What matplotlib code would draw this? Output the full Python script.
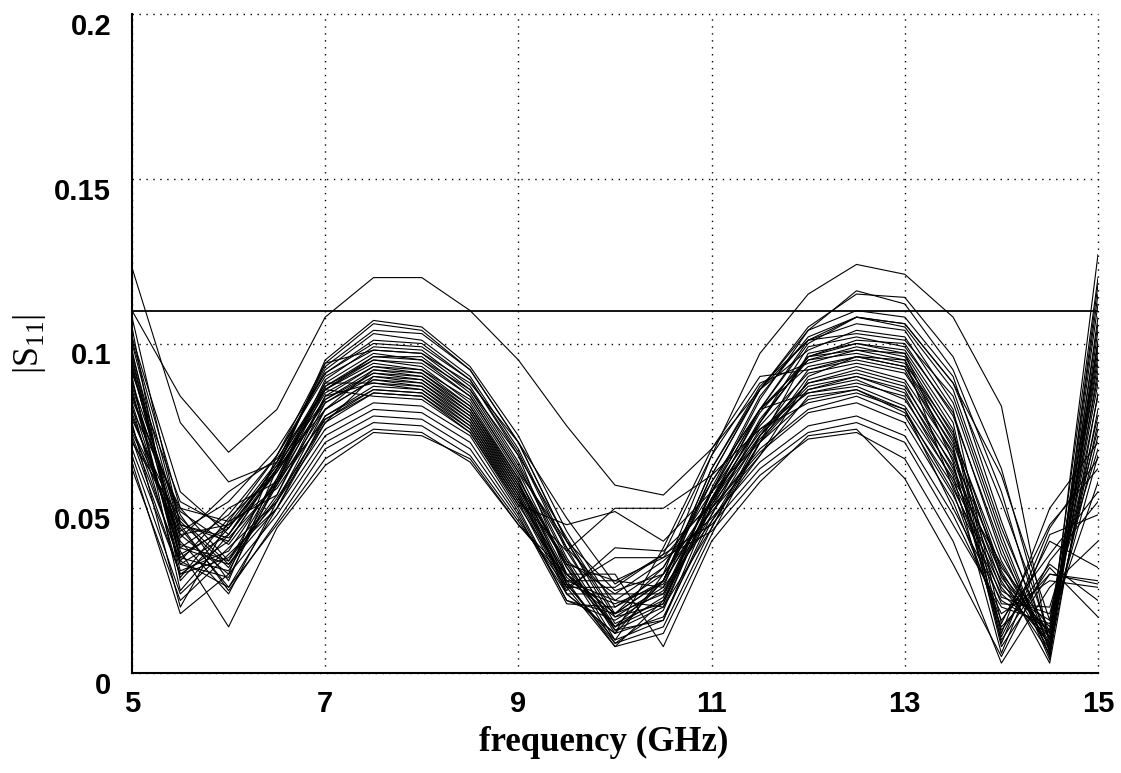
import numpy as np
import matplotlib
matplotlib.use("Agg")
import matplotlib.pyplot as plt
from matplotlib.transforms import ScaledTranslation

# frequency grid (GHz)
freq = [5, 5.5, 6, 6.5, 7, 7.5, 8, 8.5, 9, 9.5, 10, 10.5, 11, 11.5, 12, 12.5, 13, 13.5, 14, 14.5, 15]

# |S11| Monte-Carlo curves, values in thousandths
s11_milli = [
    [110, 84, 67, 80, 108, 120, 120, 110, 95, 75, 57, 54, 68, 86, 101, 108, 106, 88, 60, 16, 100],
    [101, 50, 46, 66, 90, 98, 97, 88, 70, 47, 27, 36, 66, 97, 115, 124, 121, 108, 81, 8, 115],
    [123, 76, 58, 64, 86, 96, 95, 86, 66, 41, 18, 24, 55, 80, 100, 108, 106, 88, 52, 12, 120],
    [108, 45, 40, 62, 95, 107, 105, 93, 72, 43, 20, 28, 60, 86, 105, 115, 114, 96, 62, 10, 127],
    [105, 28, 44, 62, 94, 106, 104, 92, 70, 40, 15, 22, 55, 83, 104, 116, 112, 92, 55, 6, 118],
    [98, 35, 45, 64, 92, 103, 101, 90, 68, 38, 13, 20, 52, 80, 101, 106, 104, 82, 40, 5, 108],
    [95, 38, 48, 66, 91, 101, 100, 89, 66, 30, 14, 28, 62, 86, 98, 104, 102, 80, 15, 45, 62],
    [92, 42, 30, 66, 94, 98, 97, 86, 63, 34, 10, 16, 48, 76, 96, 101, 100, 78, 38, 4, 104],
    [90, 25, 42, 62, 87, 96, 96, 85, 62, 38, 22, 20, 44, 70, 97, 100, 98, 76, 12, 50, 70],
    [88, 46, 32, 58, 86, 95, 94, 84, 61, 32, 14, 23, 55, 80, 95, 99, 96, 72, 34, 8, 98],
    [86, 33, 42, 61, 85, 93, 92, 83, 60, 27, 10, 30, 66, 88, 94, 98, 95, 70, 30, 12, 94],
    [84, 48, 28, 62, 80, 92, 91, 81, 58, 30, 18, 28, 58, 80, 93, 96, 93, 68, 8, 30, 28],
    [82, 36, 44, 63, 83, 91, 90, 80, 57, 34, 24, 24, 48, 72, 92, 95, 92, 66, 32, 14, 90],
    [80, 50, 34, 54, 82, 90, 89, 79, 56, 28, 22, 32, 55, 76, 96, 98, 97, 64, 10, 32, 17],
    [78, 40, 24, 52, 80, 89, 88, 78, 55, 27, 9, 14, 44, 72, 88, 92, 88, 62, 30, 3, 85],
    [76, 20, 46, 54, 84, 88, 87, 77, 54, 26, 8, 12, 42, 70, 86, 90, 86, 60, 6, 42, 48],
    [74, 44, 26, 50, 78, 87, 86, 76, 53, 30, 18, 32, 58, 80, 85, 88, 84, 58, 28, 6, 80],
    [72, 34, 50, 58, 77, 86, 85, 75, 52, 24, 12, 17, 46, 70, 90, 96, 95, 56, 26, 9, 76],
    [70, 47, 33, 53, 76, 85, 84, 74, 51, 28, 8, 22, 50, 74, 82, 85, 80, 55, 14, 30, 27],
    [68, 30, 40, 62, 86, 84, 83, 73, 50, 22, 16, 25, 50, 68, 80, 84, 78, 54, 24, 11, 72],
    [66, 24, 38, 52, 74, 82, 81, 72, 49, 22, 18, 28, 50, 67, 79, 82, 76, 52, 16, 36, 55],
    [62, 22, 36, 50, 72, 80, 79, 70, 48, 21, 20, 30, 49, 66, 84, 86, 80, 50, 22, 13, 66],
    [64, 18, 30, 48, 70, 78, 77, 68, 47, 24, 24, 34, 47, 64, 75, 78, 72, 48, 18, 28, 26],
    [100, 45, 25, 46, 68, 76, 75, 66, 46, 26, 26, 36, 45, 62, 73, 76, 70, 45, 20, 15, 58],
    [96, 37, 14, 44, 63, 73, 72, 65, 45, 28, 28, 35, 43, 60, 71, 73, 65, 40, 3, 26, 40],
    [94, 34, 26, 45, 65, 74, 73, 64, 45, 30, 30, 8, 40, 58, 72, 74, 59, 33, 5, 34, 52],
    [102, 55, 42, 64, 93, 104, 103, 92, 70, 40, 17, 26, 60, 86, 104, 110, 108, 90, 46, 7, 112],
    [97, 43, 52, 68, 91, 100, 99, 89, 67, 37, 14, 21, 56, 84, 102, 108, 105, 86, 44, 10, 106],
    [93, 39, 34, 59, 89, 99, 98, 87, 64, 35, 12, 28, 62, 87, 101, 103, 101, 84, 42, 5, 101],
    [91, 52, 44, 63, 88, 97, 95, 84, 61, 40, 25, 30, 52, 76, 99, 102, 99, 79, 36, 9, 96],
    [89, 31, 37, 59, 87, 95, 93, 82, 59, 32, 9, 19, 53, 79, 96, 100, 97, 74, 9, 44, 65],
    [87, 41, 55, 65, 86, 94, 92, 81, 59, 33, 13, 16, 51, 77, 95, 97, 94, 73, 31, 7, 92],
    [85, 35, 31, 57, 84, 93, 91, 80, 58, 24, 12, 38, 68, 90, 92, 96, 93, 71, 29, 11, 88],
    [83, 49, 39, 58, 83, 92, 90, 79, 57, 29, 17, 21, 53, 75, 91, 94, 91, 69, 11, 40, 32],
    [81, 29, 47, 61, 82, 91, 89, 78, 56, 33, 28, 26, 46, 66, 89, 93, 89, 67, 27, 13, 84],
    [79, 38, 33, 50, 76, 90, 88, 77, 55, 27, 21, 27, 53, 73, 88, 91, 87, 65, 25, 16, 78],
    [77, 45, 41, 57, 80, 89, 87, 76, 54, 26, 35, 35, 52, 72, 87, 90, 85, 63, 13, 33, 22],
    [75, 33, 29, 58, 88, 88, 86, 75, 53, 25, 38, 37, 51, 71, 86, 89, 83, 61, 23, 18, 74],
    [73, 42, 45, 56, 78, 86, 85, 74, 52, 37, 50, 50, 60, 74, 85, 87, 81, 59, 33, 8, 100],
    [71, 30, 35, 52, 77, 85, 84, 73, 51, 45, 49, 40, 55, 70, 83, 86, 79, 57, 21, 20, 68],
]

spec_limit = 0.11
x_ticks = [5, 7, 9, 11, 13, 15]
y_ticks = [0, 0.05, 0.1, 0.15, 0.2]
y_tick_labels = ["0", "0.05", "0.1", "0.15", "0.2"]

fig = plt.figure(figsize=(11.21, 7.73), dpi=100)
ax = fig.add_axes([132 / 1121, 100 / 773, (1098 - 132) / 1121, (673 - 14) / 773])

for row in s11_milli:
    ax.plot(freq, np.array(row) / 1000.0, color="black", lw=0.8)

ax.axhline(spec_limit, color="black", lw=1.3)

ax.set_xlim(5, 15)
ax.set_ylim(0, 0.2)
ax.set_xticks(x_ticks)
ax.set_xticklabels([str(t) for t in x_ticks])
ax.set_yticks(y_ticks)
ax.set_yticklabels(y_tick_labels)

ax.grid(True, color="black", linestyle=(0, (1, 4)), lw=1.0)
for gl in ax.get_xgridlines() + ax.get_ygridlines():
    gl.set_clip_on(False)

ax.spines["top"].set_visible(False)
ax.spines["right"].set_visible(False)
ax.spines["left"].set_linewidth(1.5)
ax.spines["bottom"].set_linewidth(1.5)

ax.tick_params(axis="both", length=0, labelsize=21)
ax.tick_params(axis="y", pad=15)
ax.tick_params(axis="x", pad=12)
for lab in ax.get_xticklabels() + ax.get_yticklabels():
    lab.set_fontfamily(["Liberation Sans Narrow", "Liberation Sans", "DejaVu Sans"])
    lab.set_fontweight("bold")
off = ScaledTranslation(0, -10 / 100, fig.dpi_scale_trans)
for lab in ax.get_yticklabels():
    lab.set_transform(lab.get_transform() + off)

fig.text(604 / 1121, 1 - 742 / 773, "frequency (GHz)", ha="center", va="center",
         fontsize=25, fontweight="bold", family=["Liberation Serif", "DejaVu Serif"])
fig.text(29 / 1121, 1 - 344 / 773, r"|S$_{\mathregular{11}}$|", ha="center", va="center",
         rotation=90, fontsize=26, family=["Liberation Serif", "DejaVu Serif"])

fig.savefig("out.png", dpi=100)
